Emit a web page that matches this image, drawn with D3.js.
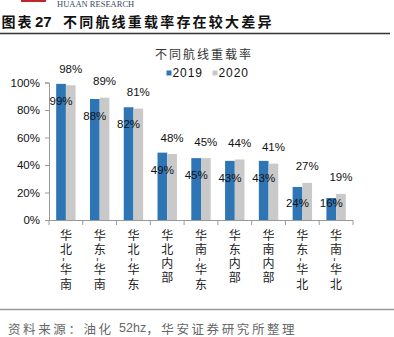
<!DOCTYPE html>
<html>
<head>
<meta charset="utf-8">
<script src="https://cdn.jsdelivr.net/npm/d3@7"></script>
<style>
  html, body { margin: 0; padding: 0; background: #fff; }
  svg { display: block; }
  text { font-family: "Liberation Sans", Arial, sans-serif; }
  .cjk { font-family: "Noto Sans CJK SC", sans-serif; }
</style>
</head>
<body>
<svg id="chart" width="394" height="337"></svg>
<script>
// Heavy-load rate by route, 2019 vs 2020
const categories = ["华北-华南", "华东-华南", "华北-华东", "华北内部", "华南-华东", "华东内部", "华南内部", "华东-华北", "华南-华北"];
const values2019 = [99, 88, 82, 49, 45, 43, 43, 24, 16];
const values2020 = [98, 89, 81, 48, 45, 44, 41, 27, 19];
const seriesNames = ["2019", "2020"];
const seriesColors = ["#2E75B6", "#C9C9C9"];
const yTicks = [0, 20, 40, 60, 80, 100];

const svg = d3.select("#chart");

// Header: logo strip, heading, rule
svg.append("rect").attr("x", 21).attr("y", 0).attr("width", 25).attr("height", 2).attr("fill", "#C0272D");
svg.append("text").attr("x", 57).attr("y", 6.5)
  .style("font-family", "'Liberation Serif', serif").style("font-size", "8.5px")
  .attr("fill", "#3b4a66").text("HUAAN RESEARCH");

const heading = svg.append("text").attr("y", 26.5)
  .attr("class", "cjk").style("font-size", "14px").style("font-weight", "bold").attr("fill", "#111");
heading.append("tspan").attr("x", 1.5).style("letter-spacing", "2px").text("图表");
heading.append("tspan").attr("x", 35).style("font-family", "'Liberation Sans', Arial, sans-serif")
  .style("font-size", "15px").text("27");
heading.append("tspan").attr("x", 63).style("letter-spacing", "2.2px").text("不同航线重载率存在较大差异");

svg.append("line").attr("x1", 0).attr("x2", 390).attr("y1", 33.5).attr("y2", 33.5)
  .attr("stroke", "#333").attr("stroke-width", 1.5);

// Scales
const x = d3.scaleBand().domain(categories).range([49, 353]).padding(0);
const xs = d3.scaleBand().domain(seriesNames).range([0, x.bandwidth()]).paddingInner(0).paddingOuter(0.74);
const y = d3.scaleLinear().domain([0, 100]).range([220, 82.5]);

// Chart title
svg.append("text").attr("x", 204).attr("y", 53).attr("class", "cjk")
  .attr("text-anchor", "middle").attr("dominant-baseline", "central")
  .style("font-size", "12px").style("letter-spacing", "2px").attr("fill", "#333")
  .text("不同航线重载率");

// Legend
const legendX = [166.5, 212.5];
seriesNames.forEach((s, i) => {
  svg.append("rect").attr("x", legendX[i]).attr("y", 70.5).attr("width", 5).attr("height", 5).attr("fill", seriesColors[i]);
  svg.append("text").attr("x", legendX[i] + 6).attr("y", 73).attr("dominant-baseline", "central")
    .style("font-size", "12px").style("letter-spacing", "0.9px").attr("fill", "#111").text(s);
});

// Y axis
const yAxis = d3.axisLeft(y).tickValues(yTicks).tickSize(4).tickPadding(5).tickFormat(d => d + "%");
const gy = svg.append("g").attr("transform", "translate(49,0)").call(yAxis);
gy.select(".domain").attr("stroke", "#999");
gy.selectAll(".tick line").attr("stroke", "#999");
gy.selectAll(".tick text").style("font-size", "11.5px").attr("fill", "#111")
  .style("font-family", "'Liberation Sans', Arial, sans-serif");

// Bars
const rows = categories.map((c, i) => ({ c, vals: [values2019[i], values2020[i]] }));
const groups = svg.append("g").selectAll("g").data(rows).join("g")
  .attr("transform", d => `translate(${x(d.c)},0)`);
groups.selectAll("rect").data(d => d.vals.map((v, k) => ({ v, s: seriesNames[k], k })))
  .join("rect")
  .attr("x", d => xs(d.s))
  .attr("width", xs.bandwidth())
  .attr("y", d => y(d.v))
  .attr("height", d => y(0) - y(d.v))
  .attr("fill", d => seriesColors[d.k]);

// Value labels: 2019 inside the top of the blue bar, 2020 above the grey bar
groups.selectAll("text.val").data(d => d.vals.map((v, k) => ({ v, s: seriesNames[k], k })))
  .join("text").attr("class", "val")
  .attr("x", d => xs(d.s) + xs.bandwidth() / 2)
  .attr("y", d => d.k === 0 ? Math.min(y(d.v) + 17, y(0) - 17) : y(d.v) - 16.5)
  .attr("text-anchor", "middle").attr("dominant-baseline", "central")
  .style("font-size", "11.5px").attr("fill", "#111")
  .text(d => d.v + "%");

// X axis line and boundary ticks
svg.append("line").attr("x1", 49).attr("x2", 353).attr("y1", 220.5).attr("y2", 220.5).attr("stroke", "#999");
const edges = categories.map(c => x(c)).concat([x.range()[1]]);
svg.append("g").selectAll("line").data(edges).join("line")
  .attr("x1", d => d).attr("x2", d => d).attr("y1", 220.5).attr("y2", 225)
  .attr("stroke", "#999");

// Category labels, written vertically
svg.append("g").selectAll("text").data(categories).join("text")
  .attr("class", "cjk")
  .attr("x", d => x(d) + x.bandwidth() / 2)
  .attr("y", 229)
  .style("writing-mode", "vertical-rl")
  .style("font-size", "12px").style("letter-spacing", "2.2px")
  .attr("fill", "#222")
  .text(d => d);

// Footer
svg.append("line").attr("x1", 0).attr("x2", 394).attr("y1", 309.5).attr("y2", 309.5)
  .attr("stroke", "#999").attr("stroke-width", 1.5);
const src = svg.append("text").attr("x", 8).attr("y", 328).attr("dominant-baseline", "central")
  .attr("class", "cjk").style("font-size", "12.5px").attr("fill", "#666");
src.append("tspan").style("letter-spacing", "2.6px").text("资料来源：油化 ");
src.append("tspan").style("font-family", "'Liberation Sans', Arial, sans-serif").text("52hz");
src.append("tspan").style("letter-spacing", "2.6px").text("，华安证券研究所整理");
</script>
</body>
</html>
